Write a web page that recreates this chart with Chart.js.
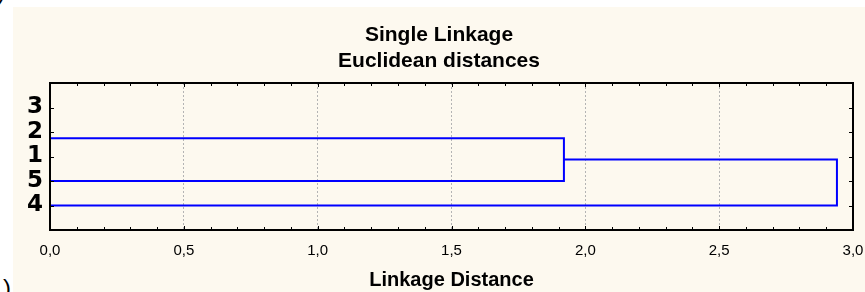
<!DOCTYPE html>
<html>
<head>
<meta charset="utf-8">
<script src="https://cdn.jsdelivr.net/npm/chart.js@4.4.1/dist/chart.umd.min.js"></script>
<style>
    html, body { margin: 0; padding: 0; background: #fff; width: 865px; height: 292px; overflow: hidden; }
    #panel { position: absolute; left: 13px; top: 7px; width: 852px; height: 285px; background: #fdf9ef; }
    .frag { position: absolute; font-family: 'Liberation Sans', Arial, sans-serif; font-size: 24px; color: #000; }
</style>
</head>
<body>
<div class="frag" style="left:-3px; top:-22px;">)</div>
<div class="frag" style="left:3px; top:274px;">)</div>
<div id="panel"><canvas id="dendro" width="852" height="285"></canvas></div>
<script>
// hojas de abajo hacia arriba (posicion 1..5 en el eje y)
const leaves = ['4', '5', '1', '2', '3'];
// uniones: [cluster A, cluster B, distancia]
const merges = [
    ['3', '2', 0],
    ['3+2', '1', 0],
    ['3+2+1', '5', 1.92],
    ['3+2+1+5', '4', 2.94]
];
const xTicks = [0, 0.5, 1.0, 1.5, 2.0, 2.5, 3.0];
const titleLines = ['Single Linkage', 'Euclidean distances'];
const xTitle = 'Linkage Distance';

// posicion y altura de cada nodo
const nodes = {};
leaves.forEach((name, i) => { nodes[name] = { y: i + 1, h: 0 }; });

const datasets = merges.map(([a, b, d]) => {
    const na = nodes[a], nb = nodes[b];
    nodes[a + '+' + b] = { y: (na.y + nb.y) / 2, h: d };
    return {
        data: [
            { x: na.h, y: na.y },
            { x: d, y: na.y },
            { x: d, y: nb.y },
            { x: nb.h, y: nb.y }
        ],
        showLine: true,
        borderColor: '#0000ff',
        borderWidth: 2,
        pointRadius: 0,
        fill: false,
        tension: 0
    };
});

const fmt = v => v.toFixed(1).replace('.', ',');

// marcas menores hacia adentro y marco negro
const framePlugin = {
    id: 'frame',
    afterDatasetsDraw(chart) {
        const { ctx, chartArea: ca, scales } = chart;
        ctx.save();
        ctx.strokeStyle = '#000';
        ctx.lineWidth = 1;
        for (let i = 0; i <= 30; i++) {
            const x = Math.round(scales.x.getPixelForValue(i / 10)) + 0.5;
            const len = i % 5 === 0 ? 4 : 3;
            ctx.beginPath();
            ctx.moveTo(x, ca.bottom); ctx.lineTo(x, ca.bottom - len);
            ctx.moveTo(x, ca.top); ctx.lineTo(x, ca.top + len);
            ctx.stroke();
        }
        for (let i = 1; i <= leaves.length; i++) {
            const y = Math.round(scales.y.getPixelForValue(i)) + 0.5;
            ctx.beginPath();
            ctx.moveTo(ca.left, y); ctx.lineTo(ca.left + 4, y);
            ctx.moveTo(ca.right, y); ctx.lineTo(ca.right - 4, y);
            ctx.stroke();
        }
        ctx.lineWidth = 2;
        ctx.strokeRect(ca.left, ca.top, ca.right - ca.left, ca.bottom - ca.top);
        ctx.restore();
    }
};

new Chart(document.getElementById('dendro'), {
    type: 'scatter',
    data: { datasets: datasets },
    options: {
        responsive: false,
        animation: false,
        layout: { padding: 0 },
        plugins: {
            legend: { display: false },
            tooltip: { enabled: false },
            title: {
                display: true,
                text: titleLines,
                color: '#000',
                font: { family: "'Liberation Sans', Arial, sans-serif", size: 21, weight: 'bold', lineHeight: 26 / 21 },
                padding: { top: 15, bottom: 9 }
            }
        },
        scales: {
            x: {
                type: 'linear',
                min: 0,
                max: 3,
                afterBuildTicks: scale => { scale.ticks = xTicks.map(v => ({ value: v })); },
                afterFit: scale => {
                    scale.height = 62;
                    scale.paddingLeft = 0;
                    scale.paddingRight = 12;
                },
                ticks: {
                    callback: v => fmt(v),
                    color: '#000',
                    font: { family: "'Liberation Sans', Arial, sans-serif", size: 15 },
                    padding: 12,
                    maxRotation: 0,
                    autoSkip: false
                },
                grid: {
                    drawTicks: false,
                    color: ctx => (ctx.tick && (ctx.tick.value === 0 || ctx.tick.value === 3)) ? 'rgba(0,0,0,0)' : '#b4b4b4',
                    lineWidth: 1
                },
                border: { display: false, dash: [2, 2] },
                title: {
                    display: true,
                    text: xTitle,
                    color: '#000',
                    font: { family: "'Liberation Sans', Arial, sans-serif", size: 20, weight: 'bold' },
                    padding: { top: 0, bottom: 0 }
                }
            },
            y: {
                type: 'linear',
                min: 0,
                max: 6,
                afterBuildTicks: scale => { scale.ticks = leaves.map((_, i) => ({ value: i + 1 })); },
                afterFit: scale => {
                    scale.width = 37;
                    scale.paddingTop = 0;
                    scale.paddingBottom = 0;
                },
                ticks: {
                    callback: v => leaves[v - 1],
                    color: '#000',
                    font: { family: "'DejaVu Sans', sans-serif", size: 23, weight: 'bold' },
                    padding: 7,
                    autoSkip: false
                },
                grid: { display: false, drawTicks: false },
                border: { display: false }
            }
        }
    },
    plugins: [framePlugin]
});
</script>
</body>
</html>
